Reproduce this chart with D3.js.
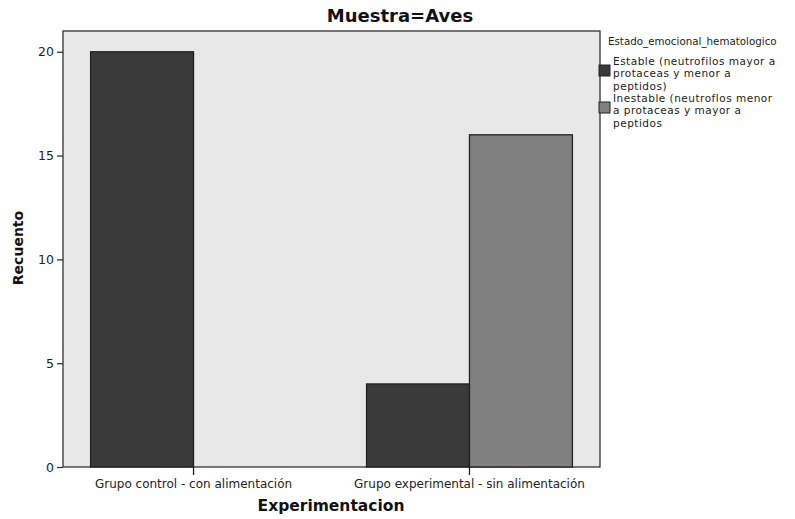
<!DOCTYPE html>
<html><head><meta charset="utf-8">
<script src="https://cdn.jsdelivr.net/npm/d3@7"></script>
<style>body{margin:0;background:#fff;font-family:"DejaVu Sans",sans-serif}</style>
</head><body><svg id="c" width="795" height="519"></svg>
<script>
const categories = ["Grupo control - con alimentación", "Grupo experimental - sin alimentación"];
const seriesNames = ["Estable (neutrofilos mayor a protaceas y menor a peptidos)", "Inestable (neutroflos menor a protaceas y mayor a peptidos"];
const estable = [20, 4];
const inestable = [0, 16];
const yTicks = [0, 5, 10, 15, 20];
const colors = ["#3a3a3a", "#808080"];
const legendLines = [["Estable (neutrofilos mayor a", "protaceas y menor a", "peptidos)"], ["Inestable (neutroflos menor", "a protaceas y mayor a", "peptidos"]];

const FF = "DejaVu Sans, sans-serif";
const svg = d3.select("#c").attr("font-family", FF);
const L = 63, R = 600, T = 31, B = 467;
const x = d3.scaleBand().domain(categories).range([L, R]).paddingInner(0.254).paddingOuter(0.1);
const xs = d3.scaleBand().domain([0, 1]).range([0, x.bandwidth()]);
const y = d3.scaleLinear().domain([0, 21]).range([B, T]);

svg.append("rect").attr("x", L).attr("y", T).attr("width", R - L).attr("height", B - T)
  .attr("fill", "#e8e8e8").attr("stroke", "#333").attr("stroke-width", 1.3);

const series = [estable, inestable];
series.forEach((vals, si) => {
  svg.append("g").selectAll("rect").data(categories).join("rect")
    .filter((d, i) => vals[i] > 0)
    .attr("x", d => x(d) + xs(si))
    .attr("y", (d) => y(vals[categories.indexOf(d)]))
    .attr("width", xs.bandwidth())
    .attr("height", d => B - y(vals[categories.indexOf(d)]))
    .attr("fill", colors[si]).attr("stroke", "#222").attr("stroke-width", 1.3);
});

const ya = svg.append("g").attr("transform", `translate(${L},0)`)
  .call(d3.axisLeft(y).tickValues(yTicks).tickSize(6).tickPadding(3).tickFormat(d3.format("d")));
ya.select(".domain").remove();
ya.selectAll("line").attr("stroke", "#333").attr("stroke-width", 1.3);
ya.selectAll("text").attr("font-size", 12.5).attr("fill", "#222").attr("font-family", FF);

const xa = svg.append("g").attr("transform", `translate(0,${B})`)
  .call(d3.axisBottom(x).tickSize(8).tickPadding(4));
xa.select(".domain").remove();
xa.selectAll("line").attr("stroke", "#222").attr("stroke-width", 1.3);
xa.selectAll("text").attr("font-size", 12).attr("fill", "#222").attr("font-family", FF);

svg.append("text").attr("x", 400).attr("y", 22).attr("text-anchor", "middle")
  .attr("font-size", 18).attr("font-weight", "bold").attr("fill", "#111").text("Muestra=Aves");
svg.append("text").attr("transform", "translate(23,248) rotate(-90)").attr("text-anchor", "middle")
  .attr("font-size", 14).attr("font-weight", "bold").attr("fill", "#111").text("Recuento");
svg.append("text").attr("x", 331).attr("y", 511).attr("text-anchor", "middle")
  .attr("font-size", 15.5).attr("font-weight", "bold").attr("fill", "#111").text("Experimentacion");

const lg = svg.append("g");
lg.append("text").attr("x", 608).attr("y", 45).attr("font-size", 10.3).attr("fill", "#222").text("Estado_emocional_hematologico");
seriesNames.forEach((s, i) => {
  const y0 = 65 + i * 37;
  lg.append("rect").attr("x", 599).attr("y", y0).attr("width", 11).attr("height", 11)
    .attr("fill", colors[i]).attr("stroke", "#222");
  legendLines[i].forEach((ln, j) => {
    lg.append("text").attr("x", 613).attr("y", y0 + j * 12.3).attr("font-size", 10.5)
      .attr("letter-spacing", 0.5).attr("fill", "#222").text(ln);
  });
});
</script></body></html>
